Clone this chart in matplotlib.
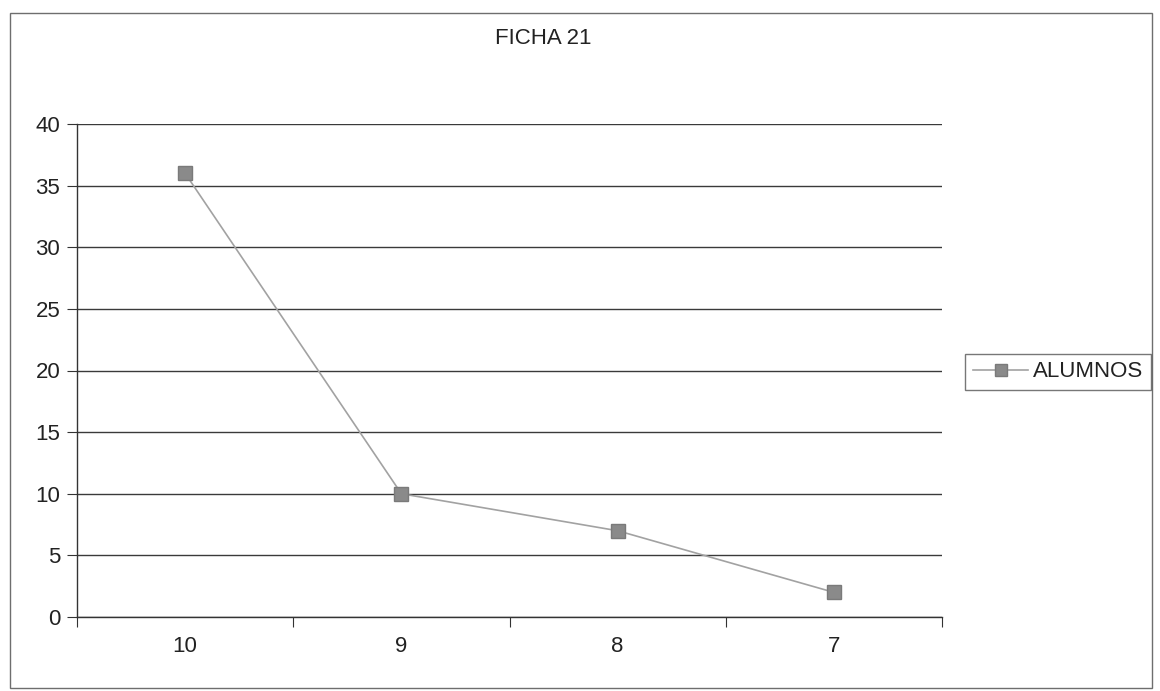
import matplotlib
matplotlib.use("Agg")
import matplotlib.pyplot as plt
from matplotlib.patches import Rectangle

plt.rcParams['font.family'] = ['Liberation Sans', 'DejaVu Sans']

# data
categories = ["10", "9", "8", "7"]
alumnos = [36, 10, 7, 2]
y_ticks = [0, 5, 10, 15, 20, 25, 30, 35, 40]

W, H = 1160, 691
fig = plt.figure(figsize=(W / 100, H / 100), dpi=100)

# outer chart frame
fig.patches.append(Rectangle((10 / W, 1 - 688 / H), 1142 / W, 675 / H,
                             transform=fig.transFigure, fill=False,
                             edgecolor="#6e6e6e", linewidth=1.0))

# plot area
ax = fig.add_axes([77 / W, 1 - 617 / H, 865 / W, 493 / H])
x = range(len(categories))
ax.plot(x, alumnos, color="#a2a2a2", linewidth=1.2, marker="s",
        markersize=10, markerfacecolor="#8a8a8a", markeredgecolor="#7a7a7a",
        label="ALUMNOS", zorder=3)

ax.set_ylim(0, 40)
ax.set_yticks(y_ticks)
ax.set_xlim(-0.5, len(categories) - 0.5)
ax.set_xticks([i - 0.5 for i in range(len(categories) + 1)])
ax.set_xticklabels([])
ax.set_xticks(list(x), minor=True)
ax.set_xticklabels(categories, minor=True)
ax.tick_params(axis="x", which="minor", length=0, pad=14, labelsize=16,
               labelcolor="#222222")
ax.tick_params(axis="x", which="major", direction="out", length=7,
               color="#333333")
ax.tick_params(axis="y", direction="out", length=7, color="#333333",
               labelsize=16, pad=5, labelcolor="#222222")

ax.yaxis.grid(True, color="#3a3a3a", linewidth=1.0)
ax.set_axisbelow(True)
for side in ["top", "right"]:
    ax.spines[side].set_visible(False)
for side in ["left", "bottom"]:
    ax.spines[side].set_color("#333333")
    ax.spines[side].set_linewidth(1.0)

fig.text(543 / W, 1 - 38 / H, "FICHA 21", ha="center", va="center",
         fontsize=16, color="#222222")

leg = fig.legend(loc="center left", bbox_to_anchor=(965 / W, 1 - 372 / H),
                 fontsize=16, frameon=True, fancybox=False, handlelength=2.5,
                 handletextpad=0.2, borderpad=0.35, borderaxespad=0,
                 markerscale=0.8)
leg.get_frame().set_edgecolor("#555555")
leg.get_frame().set_linewidth(1.0)
for t in leg.get_texts():
    t.set_color("#222222")

fig.savefig("out.png", dpi=100, facecolor="white")
